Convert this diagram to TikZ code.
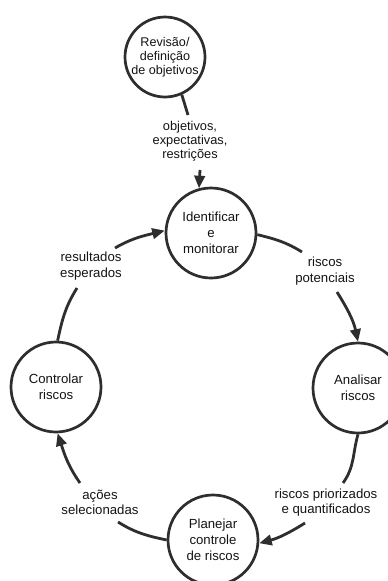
\documentclass[tikz,border=0pt]{standalone}
\usepackage{fontspec}
\setmainfont{Liberation Sans}
\usetikzlibrary{arrows.meta}
\definecolor{linecol}{HTML}{2E2E2E}
\definecolor{txtcol}{HTML}{141414}
\newcommand\stagefont{\fontsize{13.2pt}{16pt}\selectfont}
\newcommand\topfont{\fontsize{12.6pt}{14pt}\selectfont}
\newcommand\objfont{\fontsize{12.8pt}{14pt}\selectfont}
\newcommand\pairfont{\fontsize{13.2pt}{15pt}\selectfont}
\begin{document}
\begin{tikzpicture}[x=1pt,y=1pt,
  stage/.style={circle, draw=linecol, line width=2.7pt, minimum size=90pt,
    inner sep=0pt, align=center, font=\stagefont, text=txtcol},
  flow/.style={draw=linecol, line width=2.8pt},
  flowarrow/.style={flow, -{Triangle[length=12.5pt,width=10.5pt]}},
  lbl/.style={align=center, font=\stagefont, text=txtcol, inner sep=0pt}]
\useasboundingbox (0,0) rectangle (388,-581);
\fill[white] (0,0) rectangle (388,-581);

% stages of the cycle
\node[stage, minimum size=80pt, font=\topfont] (rev) at (165,-57) {Revisão/\\definição\\de objetivos};
\node[stage] (ident) at (211,-233) {Identificar\\e\\monitorar};
\node[stage] (anal) at (358,-388) {Analisar\\riscos};
\node[stage] (plan) at (213,-540) {Planejar\\controle\\de riscos};
\node[stage] (ctrl) at (56,-387) {Controlar\\riscos};

% labels on the flows
\node[lbl, font=\objfont] (lobj) at (190,-141) {objetivos,\\expectativas,\\restrições};
\node[lbl] (lpot) at (325,-271.5) {riscos\\potenciais};
\node[lbl, font=\pairfont] (lpri) at (326,-502.5) {riscos priorizados\\e quantificados};
\node[lbl, font=\pairfont] (lsel) at (100,-502.5) {ações\\selecionadas};
\node[lbl] (lres) at (91,-266.5) {resultados\\esperados};

% free ends of the flow segments beside the labels
\coordinate (objtop) at (188,-115);
\coordinate (objbot) at (200,-170);
\coordinate (pot1) at (302,-252);
\coordinate (pot2) at (337,-292);
\coordinate (pri1) at (343,-483);
\coordinate (pri2) at (305,-523);
\coordinate (sel1) at (118,-522);
\coordinate (sel2) at (80,-483);
\coordinate (res1) at (77,-288);
\coordinate (res2) at (115,-248);

% flows
\draw[flow] (rev.-66) -- (objtop);
\draw[flowarrow] (objbot) -- (ident.105);
\draw[flow] (ident.-2) to[out=-14,in=148] (pot1);
\draw[flowarrow] (pot2) to[out=-58,in=102] (anal.90);
\draw[flow] (anal.-90) to[out=-106,in=54] (pri1);
\draw[flowarrow] (pri2) to[out=-148,in=15] (plan.-4);
\draw[flow] (plan.180) to[out=168,in=-32] (sel1);
\draw[flowarrow] (sel2) to[out=125,in=-72] (ctrl.-88);
\draw[flow] (ctrl.88) to[out=78,in=-122] (res1);
\draw[flowarrow] (res2) to[out=30,in=194] (ident.177);
\end{tikzpicture}
\end{document}
